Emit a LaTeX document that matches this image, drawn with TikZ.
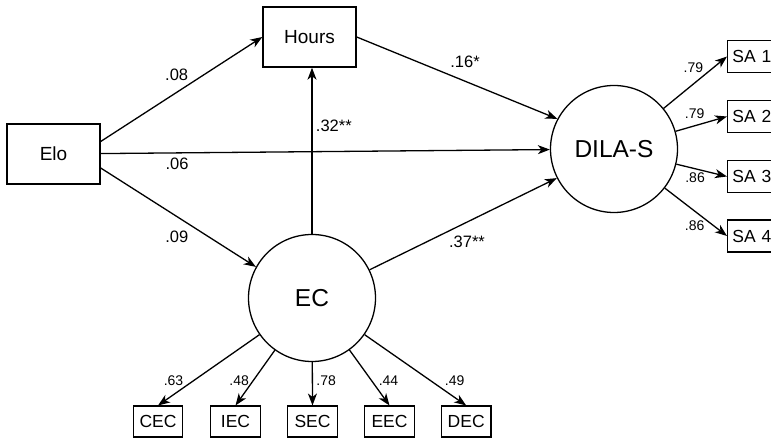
\documentclass[tikz,border=0pt]{standalone}
\usepackage{fontspec}
\setmainfont{Liberation Sans}
\usetikzlibrary{arrows.meta,positioning}
\tikzset{
    obs/.style={rectangle, draw, line width=1.4pt, minimum width=93pt, minimum height=60pt, font=\fontsize{19}{21}\selectfont},
    ind/.style={rectangle, draw, line width=1.4pt, minimum width=49.5pt, minimum height=31pt, inner xsep=3pt, font=\fontsize{17.5}{19}\selectfont},
    lat/.style={circle, draw, line width=1.3pt, minimum size=127pt, inner sep=0pt, font=\fontsize{24.5}{26}\selectfont},
    pth/.style={-{Stealth[length=12pt,width=9pt,inset=3.5pt]}, line width=1.3pt},
    coef/.style={font=\fontsize{16.5}{18}\selectfont},
    load/.style={font=\fontsize{14}{15}\selectfont}
}
\begin{document}
\begin{tikzpicture}[x=1pt, y=1pt]
    \clip (0,0) rectangle (771,441);
    % variables
    \node[obs] (elo) at (53.5,287) {Elo};
    \node[obs] (hours) at (309.5,404) {Hours};
    \node[lat] (dila) at (614,292) {DILA-S};
    \node[lat] (ec) at (312,143) {EC};
    % indicators of DILA-S
    \node[ind, anchor=west, text width=40pt, align=left, inner xsep=4pt, minimum height=32pt] (sa1) at (727,384.5) {SA 1};
    \node[ind, anchor=west, text width=40pt, align=left, inner xsep=4pt, minimum height=32pt] (sa2) at (727,324.5) {SA 2};
    \node[ind, anchor=west, text width=40pt, align=left, inner xsep=4pt, minimum height=32pt] (sa3) at (727,264.5) {SA 3};
    \node[ind, anchor=west, text width=40pt, align=left, inner xsep=4pt, minimum height=32pt] (sa4) at (727,205) {SA 4};
    % indicators of EC
    \node[ind] (cec) at (158,19.3) {CEC};
    \node[ind] (iec) at (235.5,19.3) {IEC};
    \node[ind] (sec) at (312.5,19.3) {SEC};
    \node[ind] (eec) at (389.5,19.3) {EEC};
    \node[ind] (dec) at (466.2,19.3) {DEC};

    % structural paths
    \draw[pth] ([yshift=12.5pt]elo.east) -- (hours.west) node[coef, pos=.47, yshift=18pt] {.08};
    \draw[pth] (elo) -- (dila) node[coef, pos=.17, yshift=-11pt] {.06};
    \draw[pth] ([yshift=-14pt]elo.east) -- (ec.151) node[coef, pos=.49, yshift=-20pt] {.09};
    \draw[pth] (ec) -- (ec |- hours.south) node[coef, pos=.65, right] {.32**};
    \draw[pth] (hours.east) -- (dila.152) node[coef, pos=.54, yshift=19.5pt] {.16*};
    \draw[pth] (ec) -- (dila.207) node[coef, pos=.52, yshift=-19.5pt] {.37**};

    % loadings
    \draw[pth] (dila) -- (sa1.west) node[load, pos=.47, yshift=16pt] {.79};
    \draw[pth] (dila) -- (sa2.west) node[load, pos=.37, yshift=12pt] {.79};
    \draw[pth] (dila) -- (sa3.west) node[load, pos=.37, yshift=-9pt] {.86};
    \draw[pth] (dila) -- (sa4.west) node[load, pos=.48, yshift=-15pt] {.86};
    \draw[pth] (ec) -- (cec.north) node[load, pos=.65, xshift=-20pt] {.63};
    \draw[pth] (ec) -- (iec.north) node[load, pos=.55, xshift=-14pt] {.48};
    \draw[pth] (ec) -- (sec.north) node[load, pos=.43, right] {.78};
    \draw[pth] (ec) -- (eec.north) node[load, pos=.55, xshift=17pt] {.44};
    \draw[pth] (ec) -- (dec.north) node[load, pos=.65, xshift=24pt] {.49};
\end{tikzpicture}
\end{document}
